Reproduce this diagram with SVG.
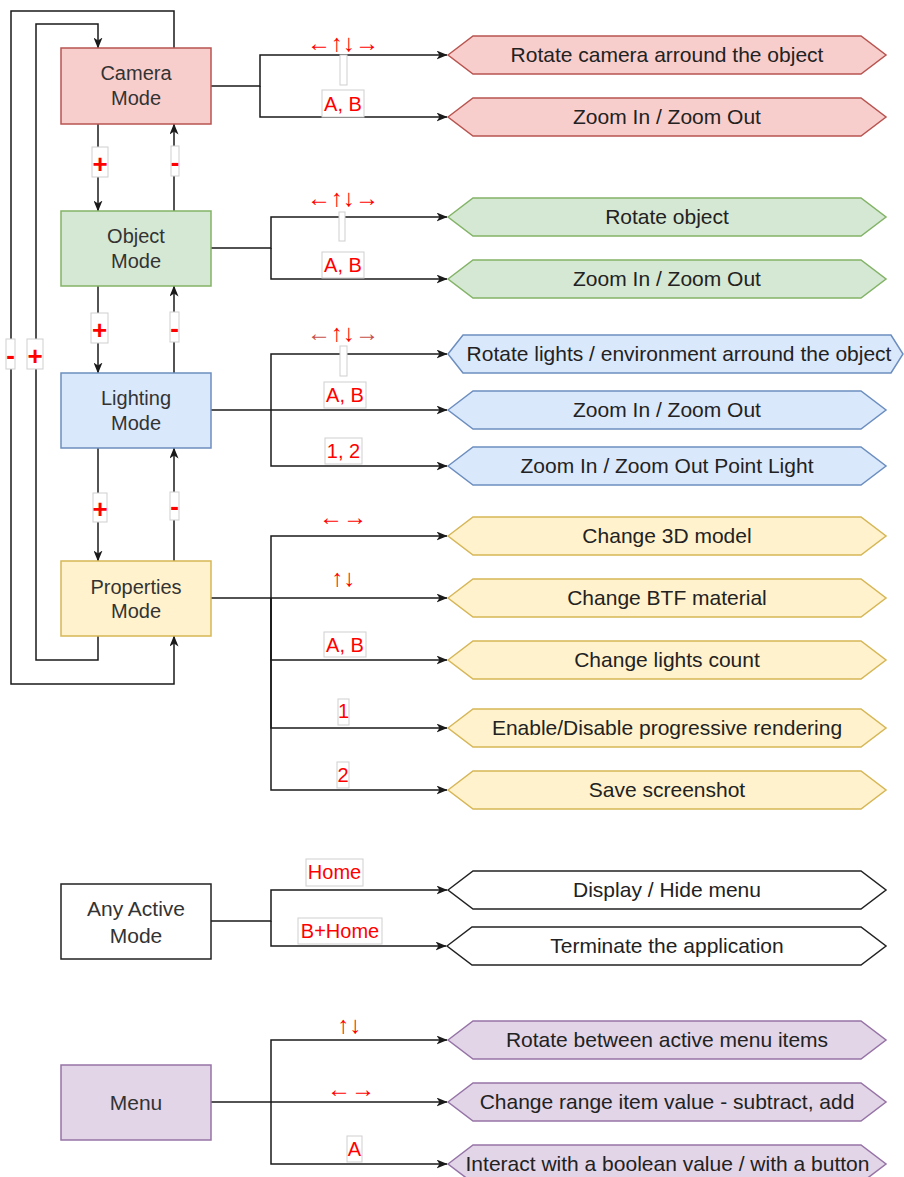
<svg xmlns="http://www.w3.org/2000/svg" width="904" height="1177" viewBox="0 0 904 1177">
<defs>
<style>
text{font-family:"Liberation Sans",Arial,sans-serif}
.nt{font-size:20px;fill:#333;text-anchor:middle}
.nt21{font-size:21px;fill:#333;text-anchor:middle}
.ht{font-size:21px;fill:#222;text-anchor:middle}
.lt{font-size:20px;fill:#ff0000;text-anchor:middle}
.ar{font-size:24px;fill:#ff0000;text-anchor:middle}
.pm{font-size:26px;font-weight:bold;fill:#ff0000;text-anchor:middle}
.lb{fill:#fff;stroke:#cfcfcf;stroke-width:1}
.e{fill:none;stroke:#1a1a1a;stroke-width:1.5}
.red{fill:#f8cecc;stroke:#b85450;stroke-width:1.5}
.grn{fill:#d5e8d4;stroke:#82b366;stroke-width:1.5}
.blu{fill:#dae8fc;stroke:#6c8ebf;stroke-width:1.5}
.yel{fill:#fff2cc;stroke:#d6b656;stroke-width:1.5}
.pur{fill:#e1d5e7;stroke:#9673a6;stroke-width:1.5}
.wht{fill:#fff;stroke:#222;stroke-width:1.5}
</style>
<marker id="ah" viewBox="0 0 11 9" refX="10.5" refY="4.5" markerWidth="11" markerHeight="9" markerUnits="userSpaceOnUse" orient="auto">
<path d="M0,0 L11,4.5 L0,9 L3,4.5 Z" fill="#1a1a1a"/>
</marker>
</defs>
<rect width="904" height="1177" fill="#fff"/>

<g id="connectors">
<path class="e" d="M98,124 V211" marker-end="url(#ah)"/>
<path class="e" d="M174,211 V124" marker-end="url(#ah)"/>
<path class="e" d="M98,286 V373" marker-end="url(#ah)"/>
<path class="e" d="M174,373 V286" marker-end="url(#ah)"/>
<path class="e" d="M98,448 V561" marker-end="url(#ah)"/>
<path class="e" d="M174,561 V448" marker-end="url(#ah)"/>
<path class="e" d="M98,636 V660 H36 V24 H98 V48" marker-end="url(#ah)"/>
<path class="e" d="M174,48 V11 H11 V684 H174 V636" marker-end="url(#ah)"/>

<path class="e" d="M211,86 H260 V55 H447" marker-end="url(#ah)"/>
<path class="e" d="M260,86 V117 H447" marker-end="url(#ah)"/>

<path class="e" d="M211,248 H271 V217 H447" marker-end="url(#ah)"/>
<path class="e" d="M271,248 V279 H447" marker-end="url(#ah)"/>

<path class="e" d="M211,410 H447" marker-end="url(#ah)"/>
<path class="e" d="M271,410 V354 H447" marker-end="url(#ah)"/>
<path class="e" d="M271,410 V466 H447" marker-end="url(#ah)"/>

<path class="e" d="M211,598 H447" marker-end="url(#ah)"/>
<path class="e" d="M271,598 V536 H447" marker-end="url(#ah)"/>
<path class="e" d="M271,598 V660 H447" marker-end="url(#ah)"/>
<path class="e" d="M271,598 V728 H447" marker-end="url(#ah)"/>
<path class="e" d="M271,598 V790 H447" marker-end="url(#ah)"/>

<path class="e" d="M211,921 H271 V890 H447" marker-end="url(#ah)"/>
<path class="e" d="M271,921 V946 H446" marker-end="url(#ah)"/>

<path class="e" d="M211,1102 H447" marker-end="url(#ah)"/>
<path class="e" d="M271,1102 V1040 H447" marker-end="url(#ah)"/>
<path class="e" d="M271,1102 V1164 H447" marker-end="url(#ah)"/>

<!-- +/- labels -->
<rect class="lb" x="92" y="147" width="16" height="30"/><text class="pm" x="100" y="173">+</text>
<rect class="lb" x="171" y="146" width="8" height="30"/><text class="pm" x="175" y="171">-</text>
<rect class="lb" x="91" y="313" width="17" height="30"/><text class="pm" x="99.5" y="339">+</text>
<rect class="lb" x="170" y="312" width="9" height="30"/><text class="pm" x="174.5" y="337">-</text>
<rect class="lb" x="93" y="493" width="14" height="29"/><text class="pm" x="100" y="518">+</text>
<rect class="lb" x="170" y="492" width="9" height="28"/><text class="pm" x="174.5" y="515">-</text>
<rect class="lb" x="6" y="339" width="9" height="30"/><text class="pm" x="10.5" y="364">-</text>
<rect class="lb" x="27" y="339" width="16" height="30"/><text class="pm" x="35" y="365">+</text>

<!-- key labels -->
<text class="ar" x="343" y="51">←↑↓→</text>
<rect class="lb" x="340" y="55" width="7" height="30"/>
<rect class="lb" x="322" y="90" width="42" height="27"/><text class="lt" x="343" y="111">A, B</text>

<text class="ar" x="343" y="206">←↑↓→</text>
<rect class="lb" x="339" y="212" width="6" height="29"/>
<rect class="lb" x="322" y="252" width="42" height="26"/><text class="lt" x="343" y="272">A, B</text>

<text class="ar" x="343" y="341"><tspan fill="#c8504a">←</tspan>↑↓<tspan fill="#c8504a">→</tspan></text>
<rect class="lb" x="340" y="346" width="7" height="30"/>
<rect class="lb" x="324" y="382" width="42" height="26"/><text class="lt" x="345" y="402">A, B</text>
<rect class="lb" x="325" y="438" width="37" height="26"/><text class="lt" x="343.5" y="458">1, 2</text>

<text class="ar" x="343" y="525">←→</text>
<text class="ar" x="343.5" y="586">↑↓</text>
<rect class="lb" x="324" y="632" width="42" height="25"/><text class="lt" x="345" y="651.5">A, B</text>
<rect class="lb" x="338" y="699" width="11" height="26"/><text class="lt" x="343.5" y="718">1</text>
<rect class="lb" x="337" y="762" width="12" height="26"/><text class="lt" x="343" y="781.5">2</text>

<rect class="lb" x="306" y="859" width="57" height="27"/><text class="lt" x="334.5" y="879">Home</text>
<rect class="lb" x="298" y="918" width="84" height="26"/><text class="lt" x="340" y="938">B+Home</text>

<text class="ar" x="349.5" y="1033">↑↓</text>
<text class="ar" x="351" y="1097">←→</text>
<rect class="lb" x="347" y="1136" width="15" height="26"/><text class="lt" x="354.5" y="1156">A</text>
</g>

<g id="camera-mode"><rect class="red" x="61" y="48" width="150" height="76"/><text class="nt" x="136" y="80">Camera</text><text class="nt" x="136" y="105">Mode</text></g>
<g id="object-mode"><rect class="grn" x="61" y="211" width="150" height="75"/><text class="nt" x="136" y="242.5">Object</text><text class="nt" x="136" y="267.5">Mode</text></g>
<g id="lighting-mode"><rect class="blu" x="61" y="373" width="150" height="75"/><text class="nt" x="136" y="405">Lighting</text><text class="nt" x="136" y="429.5">Mode</text></g>
<g id="properties-mode"><rect class="yel" x="61" y="561" width="150" height="75"/><text class="nt" x="136" y="593.5">Properties</text><text class="nt" x="136" y="617.5">Mode</text></g>
<g id="any-active-mode"><rect class="wht" x="61" y="884" width="150" height="75"/><text class="nt21" x="136" y="916">Any Active</text><text class="nt21" x="136" y="942.5">Mode</text></g>
<g id="menu"><rect class="pur" x="61" y="1065" width="150" height="75"/><text class="nt21" x="136" y="1110">Menu</text></g>

<g id="cam-rotate"><polygon class="red" points="448,55 473,36 861,36 886,55 861,74 473,74"/><text class="ht" x="667" y="62">Rotate camera arround the object</text></g>
<g id="cam-zoom"><polygon class="red" points="448,117 473,98 861,98 886,117 861,136 473,136"/><text class="ht" x="667" y="124">Zoom In / Zoom Out</text></g>

<g id="obj-rotate"><polygon class="grn" points="448,217 473,198 861,198 886,217 861,236 473,236"/><text class="ht" x="667" y="224">Rotate object</text></g>
<g id="obj-zoom"><polygon class="grn" points="448,279 473,260 861,260 886,279 861,298 473,298"/><text class="ht" x="667" y="286">Zoom In / Zoom Out</text></g>

<g id="light-rotate"><polygon class="blu" points="448,354 463,335 891,335 903,354 891,373 463,373"/><text class="ht" x="679" y="361">Rotate lights / environment arround the object</text></g>
<g id="light-zoom"><polygon class="blu" points="448,410 473,391 861,391 886,410 861,429 473,429"/><text class="ht" x="667" y="417">Zoom In / Zoom Out</text></g>
<g id="light-point"><polygon class="blu" points="448,466 473,447 861,447 886,466 861,485 473,485"/><text class="ht" x="667" y="473">Zoom In / Zoom Out Point Light</text></g>

<g id="prop-model"><polygon class="yel" points="448,536 473,517 861,517 886,536 861,555 473,555"/><text class="ht" x="667" y="543">Change 3D model</text></g>
<g id="prop-btf"><polygon class="yel" points="448,598 473,579 861,579 886,598 861,617 473,617"/><text class="ht" x="667" y="605">Change BTF material</text></g>
<g id="prop-lights"><polygon class="yel" points="448,660 473,641 861,641 886,660 861,679 473,679"/><text class="ht" x="667" y="667">Change lights count</text></g>
<g id="prop-progressive"><polygon class="yel" points="448,728 473,709 861,709 886,728 861,747 473,747"/><text class="ht" x="667" y="735">Enable/Disable progressive rendering</text></g>
<g id="prop-screenshot"><polygon class="yel" points="448,790 473,771 861,771 886,790 861,809 473,809"/><text class="ht" x="667" y="797">Save screenshot</text></g>

<g id="any-menu"><polygon class="wht" points="448,890 473,871 861,871 886,890 861,909 473,909"/><text class="ht" x="667" y="897">Display / Hide menu</text></g>
<g id="any-terminate"><polygon class="wht" points="447,946 472,927 861,927 886,946 861,965 472,965"/><text class="ht" x="667" y="953">Terminate the application</text></g>

<g id="menu-rotate"><polygon class="pur" points="448,1040 473,1021 861,1021 886,1040 861,1059 473,1059"/><text class="ht" x="667" y="1047">Rotate between active menu items</text></g>
<g id="menu-range"><polygon class="pur" points="448,1102 473,1083 861,1083 886,1102 861,1121 473,1121"/><text class="ht" x="667" y="1109">Change range item value - subtract, add</text></g>
<g id="menu-bool"><polygon class="pur" points="448,1164 473,1145 861,1145 886,1164 861,1183 473,1183"/><text class="ht" x="667.5" y="1171">Interact with a boolean value / with a button</text></g>
</svg>
